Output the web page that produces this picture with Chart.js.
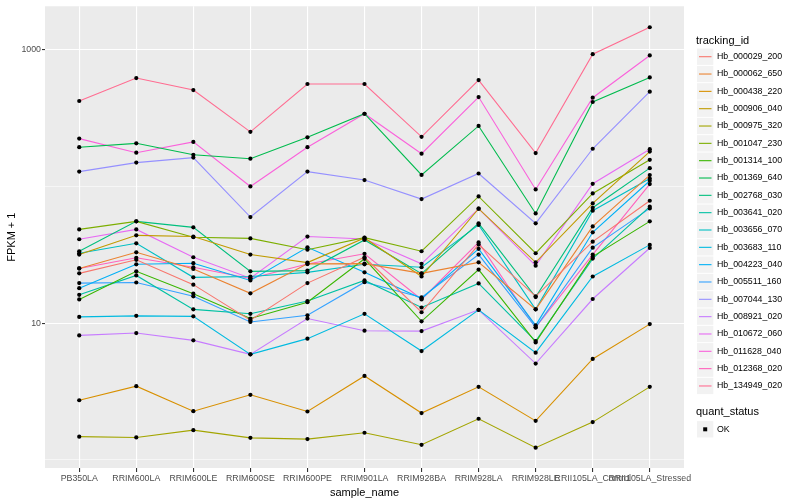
<!DOCTYPE html>
<html>
<head>
<meta charset="utf-8">
<script src="https://cdn.jsdelivr.net/npm/chart.js@4.4.1/dist/chart.umd.min.js"></script>
<style>
  html, body { margin: 0; padding: 0; background: #fff; }
  #chart { display: block; }
</style>
</head>
<body>
<canvas id="chart" width="800" height="500"></canvas>
<script>
// sample names along the x axis
const sampleNames = ['PB350LA', 'RRIM600LA', 'RRIM600LE', 'RRIM600SE', 'RRIM600PE', 'RRIM901LA',
  'RRIM928BA', 'RRIM928LA', 'RRIM928LE', 'RRII105LA_Control', 'RRII105LA_Stressed'];

const trackingIds = ['Hb_000029_200', 'Hb_000062_650', 'Hb_000438_220', 'Hb_000906_040', 'Hb_000975_320',
  'Hb_001047_230', 'Hb_001314_100', 'Hb_001369_640', 'Hb_002768_030', 'Hb_003641_020',
  'Hb_003656_070', 'Hb_003683_110', 'Hb_004223_040', 'Hb_005511_160', 'Hb_007044_130',
  'Hb_008921_020', 'Hb_010672_060', 'Hb_011628_040', 'Hb_012368_020', 'Hb_134949_020'];

// FPKM + 1, one array per gene
const hb_000029_200 = [23.1, 29.0, 19.1, 10.5, 19.6, 30.3, 12.0, 37.5, 15.7, 39.4, 78.4];
const hb_000062_650 = [25.1, 32.9, 24.9, 16.5, 27.1, 27.2, 23.1, 27.8, 12.6, 50.9, 120.7];
const hb_000438_220 = [2.73, 3.46, 2.27, 2.99, 2.26, 4.11, 2.20, 3.42, 1.93, 5.47, 9.83];
const hb_000906_040 = [31.7, 43.8, 42.9, 31.7, 27.7, 41.9, 21.9, 68.6, 27.8, 74.9, 179.3];
const hb_000975_320 = [1.48, 1.46, 1.65, 1.45, 1.42, 1.58, 1.29, 2.00, 1.23, 1.89, 3.42];
const hb_001047_230 = [48.4, 55.4, 42.4, 41.6, 34.4, 42.1, 33.5, 84.3, 32.4, 88.6, 156.1];
const hb_001314_100 = [14.9, 23.9, 16.4, 10.8, 14.2, 29.5, 10.3, 24.6, 7.23, 30.6, 55.4];
const hb_001369_640 = [193, 206, 170, 159, 228, 339, 121, 276, 63.3, 413, 625];
const hb_002768_030 = [33.5, 55.4, 50.1, 23.9, 24.2, 40.5, 23.0, 53.6, 15.5, 69.7, 135.7];
const hb_003641_020 = [16.1, 22.3, 12.6, 11.7, 14.5, 20.5, 13.0, 19.5, 7.39, 29.6, 70.9];
const hb_003656_070 = [32.4, 38.3, 21.6, 21.9, 23.5, 26.9, 25.6, 52.2, 12.6, 66.3, 114.0];
const hb_003683_110 = [11.1, 11.3, 11.2, 5.91, 7.70, 11.7, 6.25, 12.5, 6.08, 21.9, 37.3];
const hb_004223_040 = [18.0, 26.9, 27.4, 20.5, 35.8, 23.5, 15.1, 34.9, 9.62, 46.1, 109.7];
const hb_005511_160 = [19.6, 19.8, 15.7, 10.2, 11.4, 19.9, 15.4, 31.7, 9.30, 35.6, 68.9];
const hb_007044_130 = [128, 149, 162, 59.6, 128, 111, 80.6, 124, 53.6, 188, 491];
const hb_008921_020 = [8.13, 8.46, 7.48, 5.91, 10.8, 8.80, 8.74, 12.5, 5.06, 15.0, 35.4];
const hb_010672_060 = [41.0, 48.4, 30.3, 21.3, 42.9, 41.2, 27.1, 68.6, 26.3, 104.3, 186.7];
const hb_011628_040 = [223, 176, 211, 99.7, 193, 339, 173, 449, 94.8, 444, 904];
const hb_012368_020 = [25.1, 30.0, 25.6, 21.2, 27.0, 32.1, 14.9, 38.9, 9.30, 31.7, 103.8];
const hb_134949_020 = [420, 618, 505, 250, 559, 559, 230, 597, 175, 924, 1453];

const seriesValues = [hb_000029_200, hb_000062_650, hb_000438_220, hb_000906_040, hb_000975_320,
  hb_001047_230, hb_001314_100, hb_001369_640, hb_002768_030, hb_003641_020,
  hb_003656_070, hb_003683_110, hb_004223_040, hb_005511_160, hb_007044_130,
  hb_008921_020, hb_010672_060, hb_011628_040, hb_012368_020, hb_134949_020];

const yTicks = [1, 10, 100, 1000];
const yLabelled = [10, 1000];

// ggplot default hue palette for 20 levels
const palette = ['#F8766D', '#EA8331', '#D89000', '#C09B00', '#A3A500', '#7CAE00', '#39B600', '#00BB4E',
  '#00BF7D', '#00C1A3', '#00BFC4', '#00BAE0', '#00B0F6', '#35A2FF', '#9590FF', '#C77CFF',
  '#E76BF3', '#FA62DB', '#FF62BC', '#FF6C91'];

const FONT = '"Liberation Sans", Arial, sans-serif';

const lineSets = seriesValues.map((vals, i) => ({
    label: trackingIds[i],
    data: vals.map((v, x) => ({ x: x, y: v })),
    borderColor: palette[i],
    backgroundColor: palette[i],
    borderWidth: 1.1,
    pointRadius: 0,
    fill: false,
    tension: 0,
    order: 1
}));

// all points drawn on top of the lines, like geom_point after geom_line
const pointSet = {
    label: 'OK',
    data: seriesValues.flatMap(vals => vals.map((v, x) => ({ x: x, y: v }))),
    showLine: false,
    pointRadius: 2.1,
    pointBackgroundColor: '#000000',
    pointBorderWidth: 0,
    order: 0
};

const ggPanel = {
    id: 'ggPanel',
    beforeDraw(chart) {
        const { ctx, chartArea: a } = chart;
        ctx.save();
        ctx.fillStyle = '#ffffff';
        ctx.fillRect(0, 0, chart.width, chart.height);
        ctx.fillStyle = '#EBEBEB';
        ctx.fillRect(a.left, a.top, a.right - a.left, a.bottom - a.top);
        ctx.restore();
    }
};

const ggLegend = {
    id: 'ggLegend',
    afterDraw(chart) {
        const ctx = chart.ctx;
        const x0 = 696, step = 17.33;
        ctx.save();
        ctx.textBaseline = 'middle';
        ctx.textAlign = 'left';
        ctx.fillStyle = '#000000';
        ctx.font = '11px ' + FONT;
        ctx.fillText('tracking_id', x0, 40.5);
        ctx.font = '8.8px ' + FONT;
        trackingIds.forEach((id, i) => {
            const cy = 56.7 + i * step;
            ctx.fillStyle = '#F2F2F2';
            ctx.fillRect(x0 + 1, cy - step / 2 + 0.5, 16.3, step - 1);
            ctx.strokeStyle = palette[i];
            ctx.lineWidth = 1.1;
            ctx.beginPath();
            ctx.moveTo(x0 + 3, cy);
            ctx.lineTo(x0 + 15.5, cy);
            ctx.stroke();
            ctx.fillStyle = '#000000';
            ctx.fillText(id, x0 + 21, cy);
        });
        ctx.font = '11px ' + FONT;
        ctx.fillText('quant_status', x0, 412.3);
        const cy = 429.3;
        ctx.fillStyle = '#F2F2F2';
        ctx.fillRect(x0 + 1, cy - step / 2 + 0.5, 16.3, step - 1);
        ctx.fillStyle = '#000000';
        ctx.fillRect(x0 + 7.2, cy - 2, 4, 4);
        ctx.font = '8.8px ' + FONT;
        ctx.fillText('OK', x0 + 21, cy);
        ctx.restore();
    }
};

new Chart(document.getElementById('chart'), {
    type: 'line',
    data: { datasets: [pointSet].concat(lineSets) },
    options: {
        responsive: false,
        animation: false,
        events: [],
        layout: { padding: { top: 5, right: 116, left: 0, bottom: 0 } },
        plugins: {
            legend: { display: false },
            tooltip: { enabled: false }
        },
        scales: {
            x: {
                type: 'linear',
                min: -0.6,
                max: sampleNames.length - 0.4,
                afterBuildTicks: scale => { scale.ticks = sampleNames.map((_, i) => ({ value: i })); },
                afterFit: scale => { scale.height = 32; },
                border: { display: false },
                grid: { color: '#FFFFFF', lineWidth: 1.1, tickColor: '#333333', tickLength: 4 },
                ticks: {
                    autoSkip: false,
                    maxRotation: 0,
                    padding: 1,
                    color: '#4D4D4D',
                    font: { family: FONT, size: 8.8 },
                    callback: v => sampleNames[v] ?? ''
                },
                title: {
                    display: true,
                    text: 'sample_name',
                    color: '#000000',
                    font: { family: FONT, size: 11 },
                    padding: { top: 5, bottom: 0 }
                }
            },
            y: {
                type: 'logarithmic',
                min: 0.873,
                max: 2068,
                afterBuildTicks: scale => { scale.ticks = yTicks.map(v => ({ value: v })); },
                afterFit: scale => { scale.width = 45; },
                border: { display: false },
                grid: {
                    color: '#FFFFFF',
                    lineWidth: c => yLabelled.includes(c.tick && c.tick.value) ? 1.1 : 0.55,
                    tickColor: c => yLabelled.includes(c.tick && c.tick.value) ? '#333333' : 'rgba(0,0,0,0)',
                    tickLength: 3
                },
                ticks: {
                    padding: 1,
                    color: '#4D4D4D',
                    font: { family: FONT, size: 8.8 },
                    callback: v => yLabelled.includes(v) ? String(v) : ''
                },
                title: {
                    display: true,
                    text: 'FPKM + 1',
                    color: '#000000',
                    font: { family: FONT, size: 11 },
                    padding: { top: 5, bottom: 0 }
                }
            }
        }
    },
    plugins: [ggPanel, ggLegend]
});
</script>
</body>
</html>
